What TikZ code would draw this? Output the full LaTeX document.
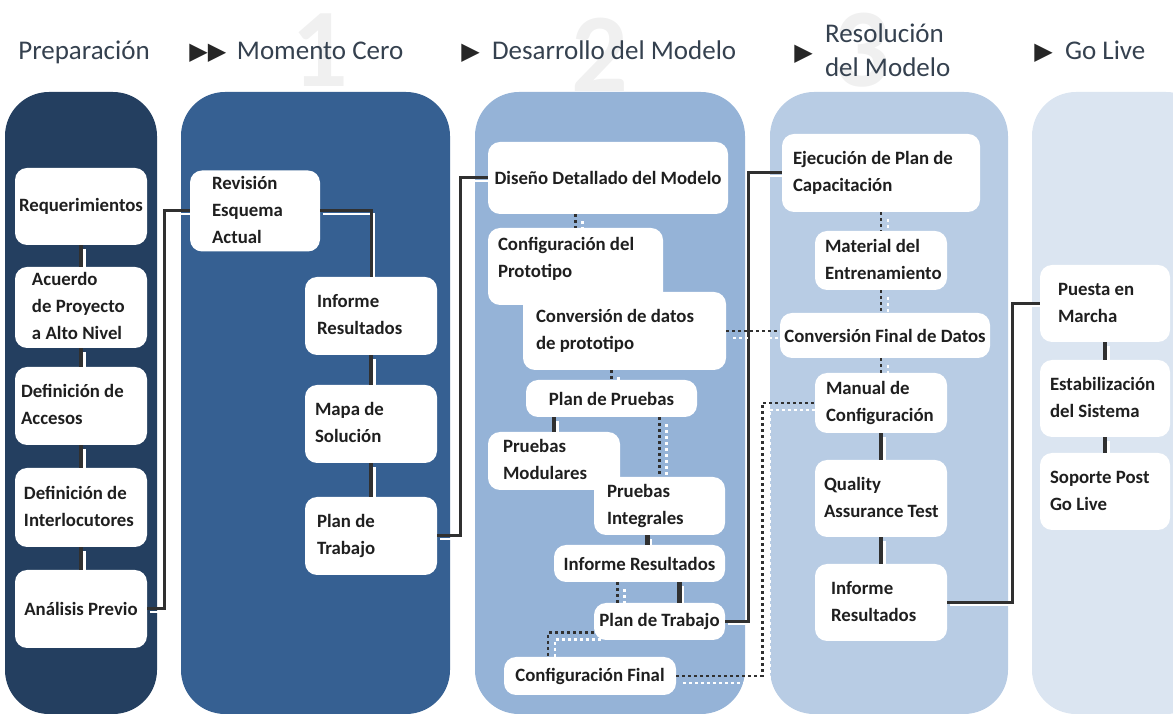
\documentclass[tikz,border=0pt]{standalone}
\usepackage{fontspec}
\setmainfont{Carlito}
\newfontfamily\symfont{DejaVu Sans}

\definecolor{prepblue}{HTML}{243F60}
\definecolor{ceroblue}{HTML}{366092}
\definecolor{desblue}{HTML}{95B3D7}
\definecolor{resblue}{HTML}{B8CCE4}
\definecolor{liveblue}{HTML}{DBE5F1}
\definecolor{headgray}{HTML}{35414F}
\definecolor{linegray}{HTML}{303030}

\newcommand{\boxfont}{\fontsize{9.4}{13.5}\selectfont\bfseries\color{black!88}}
\newcommand{\headfont}{\fontsize{13.5}{17}\selectfont\color{headgray}}
\newcommand{\lines}[1]{\spaceskip=0pt\xspaceskip=0pt\relax\begin{tabular}{@{}l@{}}#1\end{tabular}}

\begin{document}
\begin{tikzpicture}[x=0.5pt, y=-0.5pt,
    box/.style={fill=white, rounded corners=6pt, inner sep=0pt, font=\boxfont, align=center},
    lbox/.style 2 args={box, align=left, minimum width=#1, text width=#1-2*#2, inner xsep=#2},
    head/.style={font=\headfont, inner sep=0pt},
    bignum/.style={font=\fontsize{56}{56}\selectfont\bfseries, text=black!6, inner sep=0pt},
    link/.style={draw=linegray, line width=2.4pt,
        preaction={draw=white, line width=1.2pt, transform canvas={xshift=1.8pt, yshift=-1.8pt}}},
    wire/.style={draw=linegray, line width=1.5pt,
        preaction={draw=white, line width=1pt, transform canvas={xshift=1.3pt, yshift=-1.3pt}}},
    dots/.style={draw=linegray, line width=1.4pt, dash pattern=on 1.4pt off 1.6pt,
        preaction={draw=white, line width=1.4pt, dash pattern=on 1.4pt off 1.6pt,
            transform canvas={xshift=3.5pt, yshift=-3.5pt}}}]

    \useasboundingbox (0,0) rectangle (1173,715);
    \clip (0,0) rectangle (1173,715);

    % Columns
    \fill[prepblue, rounded corners=22pt] (5,92) rectangle (157,714);
    \fill[ceroblue, rounded corners=22pt] (181,92) rectangle (450,714);
    \fill[desblue, rounded corners=22pt] (475,92) rectangle (745,714);
    \fill[resblue, rounded corners=22pt] (770,92) rectangle (1008,714);
    \fill[liveblue, rounded corners=22pt] (1032,92) rectangle (1210,714);

    % Headers
    \node[bignum] (num1) at (320, 50) {1};
    \node[bignum] (num2) at (600, 55) {2};
    \node[bignum] (num3) at (862, 50) {3};

    \node[head] (hprep) at (84, 52) {Preparación};
    \node[head, anchor=west] (hcero) at (189, 52) {{\symfont\fontsize{12}{12}\selectfont\color{black!85}▶▶}\, Momento Cero};
    \node[head, anchor=west] (hdes) at (461, 52) {{\symfont\fontsize{12}{12}\selectfont\color{black!85}▶}\ \ Desarrollo del Modelo};
    \node[head, anchor=west] (hres) at (794, 53) {{\symfont\fontsize{12}{12}\selectfont\color{black!85}▶}\ \ \begin{tabular}{@{}l@{}}Resolución\\del Modelo\end{tabular}};
    \node[head, anchor=west] (hlive) at (1034, 52) {{\symfont\fontsize{12}{12}\selectfont\color{black!85}▶}\ \ Go Live};

    % Preparacion
    \node at (81, 206.5) (req) [box, minimum width=66pt, minimum height=38.5pt] {Requerimientos};
    \node at (81, 307.5) (acu) [lbox={66pt}{8.5pt}, minimum height=39.5pt] {\lines{Acuerdo\\de Proyecto\\a Alto Nivel}};
    \node at (81, 406) (acc) [lbox={66pt}{3pt}, minimum height=39pt] {\lines{Definición de\\Accesos}};
    \node at (81, 507.5) (int) [lbox={66pt}{4.5pt}, minimum height=39.5pt] {\lines{Definición de\\Interlocutores}};
    \node at (81, 609) (ana) [box, minimum width=66pt, minimum height=39pt] {Análisis Previo};

    % Momento Cero
    \node at (255, 211) (rev) [lbox={65pt}{11pt}, minimum height=39pt] {\lines{Revisión\\Esquema\\Actual}};
    \node at (371, 316) (inf2) [lbox={66pt}{6pt}, minimum height=39pt] {\lines{Informe\\Resultados}};
    \node at (371, 424) (mapa) [lbox={66pt}{5pt}, minimum height=39pt] {\lines{Mapa de\\Solución}};
    \node at (371, 536) (plan2) [lbox={66pt}{6pt}, minimum height=39pt] {\lines{Plan de\\Trabajo}};

    % Desarrollo del Modelo
    \node at (608, 178) (dis) [box, minimum width=120pt, minimum height=36pt] {Diseño Detallado del Modelo};
    \node at (575.5, 266.5) (conf) [lbox={87.5pt}{5pt}, minimum height=38.5pt] {\lines{Configuración del\\Prototipo\\[8pt]}};
    \node at (624.5, 331) (conv) [lbox={101.5pt}{6.5pt}, minimum height=39pt] {\lines{Conversión de datos\\de prototipo}};
    \node at (611.5, 398.5) (pp) [box, minimum width=85.5pt, minimum height=18.5pt] {Plan de Pruebas};
    \node at (554, 461) (pm) [lbox={66pt}{7.5pt}, minimum height=29pt] {\lines{Pruebas\\Modulares}};
    \node at (659.5, 506) (pi) [lbox={65.5pt}{6.5pt}, minimum height=29pt] {\lines{Pruebas\\Integrales}};
    \node at (639.5, 563.5) (ir3) [box, minimum width=85.5pt, minimum height=18.5pt] {Informe Resultados};
    \node at (659.5, 621.5) (pt3) [box, minimum width=65.5pt, minimum height=18.5pt] {Plan de Trabajo};
    \node at (590, 676) (cf) [box, minimum width=86pt, minimum height=19pt] {Configuración Final};

    % Resolucion del Modelo
    \node at (881, 173) (ejec) [lbox={99pt}{5.5pt}, minimum height=39pt] {\lines{Ejecución de Plan de\\Capacitación}};
    \node at (881, 260.5) (mat) [lbox={66pt}{5pt}, minimum height=29.5pt] {\lines{Material del\\Entrenamiento}};
    \node at (885, 335.5) (cfd) [box, minimum width=105pt, minimum height=22.5pt] {Conversión Final de Datos};
    \node at (881, 403) (man) [lbox={66pt}{5.5pt}, minimum height=30pt] {\lines{Manual de\\Configuración}};
    \node at (881, 498.5) (qat) [lbox={66pt}{4.5pt}, minimum height=38.5pt] {\lines{Quality\\Assurance Test}};
    \node at (881, 602.5) (ir4) [lbox={66pt}{8pt}, minimum height=38.5pt] {\lines{Informe\\Resultados}};

    % Go Live
    \node at (1105, 303.5) (puesta) [lbox={65pt}{9pt}, minimum height=38.5pt] {\lines{Puesta en\\Marcha}};
    \node at (1105, 398.5) (est) [lbox={65pt}{5pt}, minimum height=38.5pt] {\lines{Estabilización\\del Sistema}};
    \node at (1105, 491.5) (sop) [lbox={65pt}{5pt}, minimum height=38.5pt] {\lines{Soporte Post\\Go Live}};

    % Links
    \draw[link] (req) -- (acu);
    \draw[link] (acu) -- (acc);
    \draw[link] (acc) -- (int);
    \draw[link] (int) -- (ana);
    \draw[wire] (ana.east) -- ++(17,0) |- (rev.west);

    \draw[wire] (rev.east) -| (inf2.north);
    \draw[link] (inf2) -- (mapa);
    \draw[link] (mapa) -- (plan2);
    \draw[wire] (plan2.east) -- ++(23,0) |- (dis.west);

    \draw[dots] (conf.north |- dis.south) -- (conf.north);
    \draw[dots] (pp.north |- conv.south) -- (pp.north);
    \draw[link] (pm.north |- pp.south) -- (pm.north);
    \draw[dots] (pi.north |- pp.south) -- (pi.north);
    \draw[link] ([xshift=-6pt]pi.south) -- ([xshift=-6pt]pi.south |- ir3.north);
    \draw[link] ([xshift=10pt]pt3.north |- ir3.south) -- ([xshift=10pt]pt3.north);
    \draw[dots] ([xshift=-21pt]pt3.north |- ir3.south) -- ([xshift=-21pt]pt3.north);
    \draw[dots] ([yshift=-5.5pt]pt3.west) -| ([xshift=-21pt]cf.north);
    \draw[wire] (pt3.east) -- ++(23,0) |- (ejec.west);
    \draw[dots] (conv.east) -- (conv.east -| cfd.west);
    \draw[dots] (cf.east) -- ++(86,0) |- (man.west);

    \draw[dots] (ejec) -- (mat);
    \draw[dots] (mat.south) -- (mat.south |- cfd.north);
    \draw[dots] (man.north |- cfd.south) -- (man.north);
    \draw[link] (man) -- (qat);
    \draw[link] (qat) -- (ir4);
    \draw[wire] (ir4.east) -- ++(65,0) |- (puesta.west);

    \draw[link] (puesta) -- (est);
    \draw[link] (est) -- (sop);

\end{tikzpicture}
\end{document}
